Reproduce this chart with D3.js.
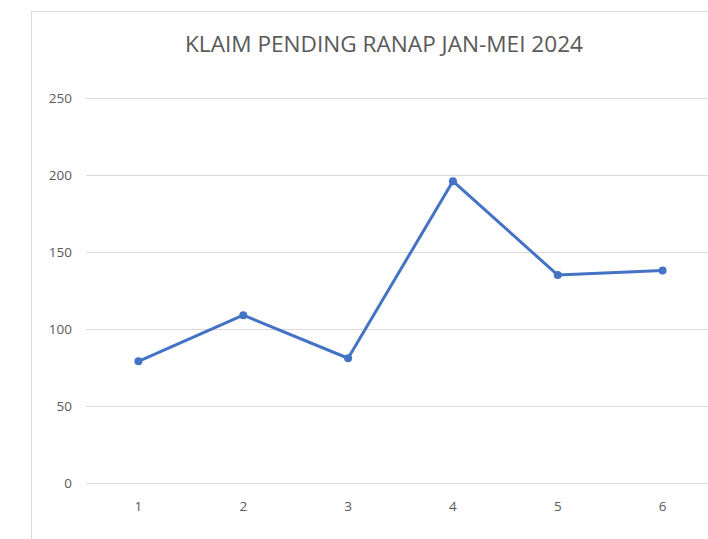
<!DOCTYPE html>
<html>
<head>
<meta charset="utf-8">
<script src="https://cdn.jsdelivr.net/npm/d3@7"></script>
<style>
  html, body { margin: 0; padding: 0; background: #fff; }
  svg { display: block; }
  text { font-family: "Open Sans", "Noto Sans", sans-serif; fill: #595959; }
</style>
</head>
<body>
<svg id="chart" width="708" height="539"></svg>
<script>
// Monthly pending inpatient claims
const titleText = "KLAIM PENDING RANAP JAN-MEI 2024";
const categories = ["1", "2", "3", "4", "5", "6"];
const claims = [79, 109, 81, 196, 135, 138];
const yTicks = [0, 50, 100, 150, 200, 250];

const svg = d3.select("#chart");
const W = 708, H = 539;

// chart frame (runs past the right and bottom edges)
svg.append("rect")
  .attr("x", 31.5).attr("y", 11.5)
  .attr("width", W).attr("height", H)
  .attr("fill", "#fff").attr("stroke", "#d9d9d9").attr("stroke-width", 1);

const plot = { left: 86, right: 715, top: 98, bottom: 483 };

const x = d3.scaleBand().domain(categories).range([plot.left, plot.right]);
const y = d3.scaleLinear().domain([0, 250]).range([plot.bottom, plot.top]);

// title
svg.append("text")
  .attr("x", 384).attr("y", 52)
  .attr("text-anchor", "middle")
  .style("font-size", "21px")
  .attr("textLength", 398)
  .attr("lengthAdjust", "spacingAndGlyphs")
  .text(titleText);

// horizontal gridlines with value labels
const yAxis = d3.axisLeft(y).tickValues(yTicks).tickSize(-(plot.right - plot.left)).tickPadding(14);
const gy = svg.append("g").attr("transform", `translate(${plot.left},0)`).call(yAxis);
gy.select(".domain").remove();
gy.selectAll(".tick line").attr("stroke", "#d9d9d9").attr("stroke-width", 1.2);
gy.selectAll(".tick text").style("font-size", "13.5px").attr("fill", "#595959");

// category labels
const xAxis = d3.axisBottom(x).tickSize(0).tickPadding(18);
const gx = svg.append("g").attr("transform", `translate(0,${plot.bottom})`).call(xAxis);
gx.select(".domain").remove();
gx.selectAll(".tick text").style("font-size", "13.5px").attr("fill", "#595959");

// series line
const pts = categories.map((c, i) => ({ c, v: claims[i] }));
const line = d3.line().x(d => x(d.c) + x.bandwidth() / 2).y(d => y(d.v));
svg.append("path")
  .datum(pts)
  .attr("d", line)
  .attr("fill", "none")
  .attr("stroke", "#4472c4")
  .attr("stroke-width", 3)
  .attr("stroke-linejoin", "round");

svg.selectAll("circle.pt")
  .data(pts)
  .join("circle")
  .attr("class", "pt")
  .attr("cx", d => x(d.c) + x.bandwidth() / 2)
  .attr("cy", d => y(d.v))
  .attr("r", 4)
  .attr("fill", "#4472c4");
</script>
</body>
</html>
